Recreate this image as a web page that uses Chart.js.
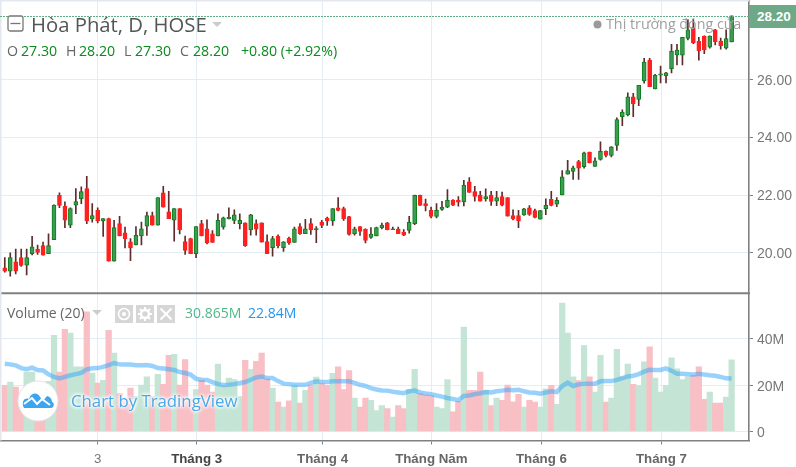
<!DOCTYPE html>
<html>
<head>
<meta charset="utf-8">
<title>Hòa Phát, D, HOSE</title>
<script src="https://cdn.jsdelivr.net/npm/chart.js@4"></script>
<style>
  html, body { margin: 0; padding: 0; background: #fff; overflow: hidden; }
  #wrap { position: relative; width: 796px; height: 467px; }
  #wrap div, #wrap svg { position: absolute; white-space: nowrap; }
  .ui { font-family: "Open Sans", sans-serif; line-height: 1; }
  .lbl { color: #666; font-size: 14.2px; top: 44px; }
  .val { color: #0b8a1e; font-size: 14.2px; top: 44px; }
  .btn { background: #d6d6d6; width: 18px; height: 18px; top: 305px; }
</style>
</head>
<body>
<div id="wrap">
  <canvas id="chart" width="796" height="467"></canvas>

  <svg style="left:7px;top:15px" width="17" height="17"><rect x="1" y="1" width="15" height="15" rx="2" fill="#fff" stroke="#777" stroke-width="1.3"/><line x1="3.5" y1="8.5" x2="13.5" y2="8.5" stroke="#777" stroke-width="1.3"/></svg>
  <div class="ui" style="left:31px;top:14px;font-size:20.3px;color:#555">Hòa Phát, D, HOSE</div>
  <svg style="left:212px;top:22px" width="11" height="6"><path d="M0 0H10L5 5Z" fill="#ccc"/></svg>

  <div class="ui lbl" style="left:7px">O</div><div class="ui val" style="left:21px">27.30</div>
  <div class="ui lbl" style="left:66px">H</div><div class="ui val" style="left:79px">28.20</div>
  <div class="ui lbl" style="left:124px">L</div><div class="ui val" style="left:135px">27.30</div>
  <div class="ui lbl" style="left:180px">C</div><div class="ui val" style="left:193px">28.20</div>
  <div class="ui val" style="left:241px">+0.80 (+2.92%)</div>

  <svg style="left:593px;top:20px" width="9" height="9"><circle cx="4.5" cy="4.5" r="4" fill="#9a9a9a"/></svg>
  <div class="ui" style="left:606px;top:17px;font-size:14.3px;color:#9f9f9f">Thị trường đóng cửa</div>

  <div style="left:749px;top:5px;width:47px;height:23px;background:#6ea987;color:#fff;font:bold 13.5px 'Liberation Sans',sans-serif;line-height:23px;text-indent:8px">28.20</div>

  <div class="ui" style="left:7px;top:306px;font-size:14px;color:#666">Volume (20)</div>
  <svg style="left:92px;top:310px" width="11" height="6"><path d="M0 0H10L5 5Z" fill="#ccc"/></svg>
  <div class="btn" style="left:115px"><svg style="left:0;top:0" width="18" height="18"><circle cx="9" cy="9" r="5.5" fill="none" stroke="#fff" stroke-width="1.6"/><circle cx="9" cy="9" r="2" fill="#fff"/></svg></div>
  <div class="btn" style="left:136px"><svg style="left:0;top:0" width="18" height="18"><circle cx="9" cy="9" r="4" fill="none" stroke="#fff" stroke-width="2.5"/><path d="M9 2V5M9 13V16M2 9H5M13 9H16M4 4L6 6M12 12L14 14M14 4L12 6M6 12L4 14" stroke="#fff" stroke-width="2"/></svg></div>
  <div class="btn" style="left:157px"><svg style="left:0;top:0" width="18" height="18"><path d="M3.5 3.5L14.5 14.5M14.5 3.5L3.5 14.5" stroke="#fff" stroke-width="2"/></svg></div>
  <div class="ui" style="left:185px;top:306px;font-size:14px;color:#4fb88a">30.865M</div>
  <div class="ui" style="left:248px;top:306px;font-size:14px;color:#2196f3">22.84M</div>

  <svg style="left:16px;top:379px" width="44" height="44"><circle cx="22" cy="22" r="20" fill="#fff" stroke="#e4e4e4"/><path d="M8 29C5 24 8 18 13 20C15 13 22 13 24 18L27 22L31 17C35 18 36 21 36 23C39 24 38 29 35 29Z" fill="#3ba5ef"/><path d="M8 25L16 19L21 25L26 20L34 26" fill="none" stroke="#fff" stroke-width="2"/></svg>
  <div class="ui" style="left:71px;top:393px;font-size:16.8px;color:#4aa8ea;text-shadow:0 0 3px #fff,0 0 3px #fff,0 0 4px #fff,0 0 4px #fff">Chart by TradingView</div>
</div>

<script>
// price data, one entry per trading day
const opens = [19.48,19.36,19.69,19.83,19.57,19.97,20.13,20.25,19.97,20.45,21.99,21.61,20.96,21.65,21.87,22.22,21.17,21.47,21.10,21.18,
  19.71,21.01,20.69,20.38,20.27,20.58,20.92,21.29,20.96,22.08,21.42,21.13,21.53,20.39,20.49,19.97,21.01,20.83,20.66,20.58,
  20.89,21.17,21.12,21.01,21.04,20.79,21.01,21.04,20.39,20.18,20.57,20.18,20.50,20.36,20.91,20.66,21.01,20.80,21.06,21.19,
  21.10,21.56,21.53,21.25,20.66,20.91,20.82,20.53,20.58,20.87,21.04,20.80,20.82,20.71,20.77,21.01,21.99,21.70,21.47,21.26,
  21.50,21.58,21.82,21.82,21.76,22.46,22.12,22.00,21.87,22.00,21.79,21.95,21.91,21.29,21.29,21.31,21.56,21.46,21.16,21.53,
  21.85,21.68,22.00,22.72,22.82,23.16,22.98,23.49,22.99,23.23,23.51,23.37,23.72,24.71,24.77,25.40,25.31,25.95,26.67,25.67,
  26.15,26.12,26.37,26.85,26.84,27.42,27.80,27.32,27.50,27.12,27.72,27.33,27.08,27.30];
const highs = [19.83,20.00,20.13,20.13,20.13,20.57,20.27,20.37,20.66,21.66,22.08,21.76,21.56,22.22,22.28,22.65,21.70,21.56,21.18,21.20,
  21.12,21.26,20.89,20.49,20.91,21.06,21.41,21.41,21.91,22.30,22.13,21.53,21.53,20.58,20.51,20.91,21.12,21.14,20.77,21.35,
  21.24,21.56,21.49,21.35,21.04,21.33,21.14,21.04,20.62,20.57,20.62,20.39,20.54,20.89,21.01,21.16,21.18,20.91,21.12,21.24,
  21.53,21.91,21.58,21.26,20.89,20.91,20.83,20.87,20.89,21.03,21.05,20.89,20.89,20.80,21.26,22.00,22.00,21.86,21.58,21.70,
  21.78,22.19,21.84,21.95,22.51,22.60,22.30,22.13,22.21,22.13,22.13,22.10,21.91,21.49,21.47,21.54,21.63,21.51,21.47,21.87,
  22.13,21.91,22.85,23.20,23.00,23.20,23.49,23.49,23.29,23.84,23.53,23.68,24.67,24.95,25.54,25.52,25.80,26.73,26.73,26.18,
  26.46,26.25,27.22,27.22,27.46,28.07,28.07,27.46,27.51,27.51,27.74,27.43,27.72,28.20];
const lows = [19.33,19.19,19.27,19.53,19.23,19.93,19.94,19.92,19.97,20.45,21.56,20.87,20.87,21.35,21.70,21.01,21.06,21.03,20.57,19.71,
  19.71,20.58,20.17,19.73,20.27,20.27,20.60,20.96,20.96,21.58,21.18,20.40,20.65,19.94,19.97,19.83,20.58,20.31,20.36,20.58,
  20.82,21.17,21.01,20.83,20.22,20.61,20.61,20.37,19.97,19.88,20.17,20.05,20.29,20.36,20.64,20.66,20.64,20.35,20.87,20.95,
  20.95,21.45,21.12,20.61,20.61,20.60,20.34,20.50,20.58,20.83,20.79,20.80,20.66,20.59,20.68,20.97,21.64,21.45,21.21,21.21,
  21.47,21.56,21.63,21.61,21.62,22.09,21.79,21.79,21.79,21.64,21.63,21.62,21.27,21.14,20.87,21.29,21.29,21.21,21.16,21.32,
  21.62,21.60,22.00,22.72,22.54,22.54,22.93,23.11,22.99,23.21,23.32,23.32,23.54,24.40,24.74,24.71,25.09,25.87,25.75,25.67,
  25.88,25.88,26.23,26.50,26.50,27.37,27.24,26.67,26.89,27.08,27.20,27.05,27.05,27.30];
const closes = [19.36,19.83,19.36,19.56,19.83,20.21,20.01,19.92,20.25,21.65,21.64,21.13,21.53,21.77,22.12,21.10,21.29,21.10,21.18,19.71,
  20.87,20.58,20.49,20.17,20.60,20.83,21.29,20.96,21.91,21.58,21.18,21.53,20.80,20.08,19.97,20.91,20.58,20.34,20.36,21.12,
  21.21,21.23,21.31,21.12,20.25,21.31,20.82,20.37,19.97,20.49,20.25,20.38,20.34,20.83,20.66,20.83,20.79,20.84,20.95,21.10,
  21.53,21.47,21.17,20.64,20.83,20.74,20.43,20.65,20.87,20.96,20.80,20.83,20.66,20.61,21.05,21.99,21.64,21.62,21.26,21.47,
  21.58,21.82,21.65,21.75,22.34,22.09,21.95,21.79,21.95,21.78,21.91,21.65,21.27,21.17,21.10,21.52,21.33,21.22,21.46,21.64,
  21.64,21.82,22.63,22.85,22.94,22.93,23.46,23.11,23.18,23.51,23.37,23.67,24.61,24.87,25.40,25.15,25.80,26.60,25.75,26.15,
  26.20,26.23,26.98,27.02,27.46,27.72,27.27,26.99,27.02,27.50,27.31,27.17,27.42,28.20];

// volume in millions and its 20 day average
const volumes = [19.9,21.3,19.1,15,25.6,25.6,18,14,21.6,41.4,25.6,44,42.4,27.8,27.8,51.5,25.2,20.9,22,43.6,
  33.8,16.3,14,18.7,15,20,23.5,15,24.6,20.3,32.8,33.2,20,31,14,18,22,20,17,29,
  19.9,23,22.4,15,30.6,26.8,30.2,33.8,22.7,18.7,12.7,10.5,13.2,20,12.2,17.7,20,23.4,20.6,19.9,
  25,27.8,18.1,26.2,14.4,10.5,14.4,13.4,9,11.2,9.9,6.2,11.2,9.9,18,26.8,16.3,15.8,15.5,10.5,
  9.9,22.4,8.5,13,45,17.7,17.7,25.6,17.7,11.2,14.4,13.4,20,12.8,16,10.5,13.4,12.7,10.5,18.4,
  19.9,11.7,55.3,42.4,23.5,21.9,37,23.5,17,32.8,12.7,14.4,35.4,23.5,29,20.3,19.9,30,36.5,23,
  17,19.9,31.7,27,22.4,23.5,24.2,27.9,13.8,17,12.2,12.2,14.8,30.865];
const volumeAvg = [29.2,28.9,28.5,27.3,26.8,27.5,26.5,26.3,24.6,23.5,22.9,23.5,24.2,24.7,25.2,26.8,27.2,27.3,27.8,28.6,
  29.5,28.9,28.8,28.8,28.5,28.5,28.6,28.2,27.3,27.1,26.8,26.5,25.6,25.2,24.5,22.7,22.3,22.2,21.3,20.4,
  20.0,20.1,20.4,20.9,21.3,22.3,23.3,23.7,23.0,23.0,21.7,20.6,20.4,20.1,20.1,20.1,20.9,21.6,21.3,21.3,
  21.6,21.6,21.6,21.6,20.9,20.1,19.6,18.7,18.1,17.7,17.6,17.1,16.8,16.5,17.3,17.6,16.8,16.4,16.1,15.5,
  15.0,14.4,14.0,13.5,15.3,15.5,16.1,16.5,17.0,16.8,17.3,17.6,18.0,17.8,18.0,17.3,16.8,16.7,16.3,16.8,
  17.3,17.0,19.6,21.0,19.6,20.3,20.6,20.6,20.6,21.6,21.7,21.7,22.2,23.0,23.7,24.0,24.7,25.8,26.6,26.5,
  26.5,27.2,26.2,24.9,24.9,24.7,24.5,24.9,24.5,24.2,24.0,23.5,22.9,22.84];

const lastClose = 28.20;
const priceTicks = [20, 22, 24, 26];
const volumeTicks = [0, 20, 40];
// the month lines sit a little right of the bar centres in the picture
const dateTickIndex = [17, 35.1, 58.15, 78.05, 98.2, 120.15];
const dateTickLabels = ['3', 'Tháng 3', 'Tháng 4', 'Tháng Năm', 'Tháng 6', 'Tháng 7'];

const upBody = '#3f9a55', upBorder = '#0a7f1a';
const downBody = '#ff2020', downBorder = '#ff1f1f';
const upVolume = '#c4e5d5', downVolume = '#f8bfc5';
const wickColor = '#5e2c2c';
const gridColor = '#e2edf6', axisColor = '#808080', tickText = '#777';

// the divider between panes, the frame and the dotted last price line
const paneLines = {
  id: 'paneLines',
  afterDraw(chart) {
    const c = chart.ctx, a = chart.chartArea, s = chart.scales;
    c.save();
    c.strokeStyle = axisColor;
    c.lineWidth = 2;
    c.beginPath();
    c.moveTo(0, s.y.bottom);
    c.lineTo(a.right + 1, s.y.bottom);
    c.stroke();
    c.strokeStyle = '#e3e8ee';
    c.beginPath();
    c.moveTo(0, 0.5);
    c.lineTo(a.right, 0.5);
    c.moveTo(0.5, 0);
    c.lineTo(0.5, a.bottom);
    c.stroke();
    c.strokeStyle = '#5fae84';
    c.lineWidth = 1;
    c.setLineDash([2, 1]);
    const y = Math.round(s.y.getPixelForValue(lastClose)) + 0.5;
    c.beginPath();
    c.moveTo(0, y);
    c.lineTo(a.right, y);
    c.stroke();
    c.restore();
  }
};

function fitRight(scale) {
  scale.width = 47;
  scale.paddingTop = 0;
  scale.paddingBottom = 0;
}

const days = opens.map((o, i) => i);

new Chart(document.getElementById('chart'), {
  type: 'bar',
  data: {
    datasets: [
      {
        type: 'line', yAxisID: 'y2', order: 1,
        data: days.map(i => ({ x: i, y: volumeAvg[i] })),
        borderColor: 'rgba(50,165,250,0.5)', borderWidth: 4.5, pointRadius: 0, tension: 0
      },
      {
        yAxisID: 'y', order: 2, grouped: false, barThickness: 4,
        data: days.map(i => ({ x: i, y: [opens[i], closes[i]] })),
        backgroundColor: days.map(i => closes[i] >= opens[i] ? upBody : downBody),
        borderColor: days.map(i => closes[i] >= opens[i] ? upBorder : downBorder),
        borderWidth: 1, borderSkipped: false
      },
      {
        yAxisID: 'y', order: 3, grouped: false, barThickness: 1,
        data: days.map(i => ({ x: i, y: [lows[i], highs[i]] })),
        backgroundColor: wickColor
      },
      {
        yAxisID: 'y2', order: 4, grouped: false, barThickness: 5.6,
        data: days.map(i => ({ x: i, y: volumes[i] })),
        backgroundColor: days.map(i => closes[i] >= opens[i] ? upVolume : downVolume)
      }
    ]
  },
  options: {
    responsive: false,
    animation: false,
    devicePixelRatio: 1,
    layout: { padding: 0 },
    plugins: { legend: { display: false }, tooltip: { enabled: false } },
    scales: {
      x: {
        type: 'linear', min: -0.878, max: 136.18, offset: false,
        afterFit(scale) { scale.height = 26.5; scale.paddingLeft = 0; scale.paddingRight = 0; },
        afterBuildTicks(scale) { scale.ticks = dateTickIndex.map(v => ({ value: v })); },
        grid: { offset: false, color: gridColor, tickColor: axisColor, tickLength: 4 },
        border: { color: axisColor, width: 1.6 },
        ticks: {
          autoSkip: false, maxRotation: 0, padding: 7,
          callback: v => dateTickLabels[dateTickIndex.indexOf(v)],
          color: ctx => ctx.index === 1 ? '#444' : (ctx.index === 0 ? '#777' : '#666'),
          font: ctx => ({ family: '"Liberation Sans"', size: 13.3, weight: ctx.index === 0 ? 'normal' : 'bold' })
        }
      },
      // labels get an empty first line with a tiny line height, that nudges them down a bit
      y: {
        position: 'right', stack: 'panes', stackWeight: 293,
        min: 18.596, max: 28.752,
        afterFit: fitRight,
        afterBuildTicks(scale) { scale.ticks = priceTicks.map(v => ({ value: v })); },
        grid: { color: gridColor, tickColor: axisColor, tickLength: 4 },
        border: { color: axisColor, width: 1.6 },
        ticks: {
          padding: 4, color: tickText,
          font: { family: '"Liberation Sans"', size: 14, lineHeight: '2.6px' },
          callback: v => ['', v.toFixed(2)]
        }
      },
      y2: {
        position: 'right', stack: 'panes', stackWeight: 147,
        min: -3.88, max: 59.5,
        afterFit: fitRight,
        afterBuildTicks(scale) { scale.ticks = volumeTicks.map(v => ({ value: v })); },
        grid: { color: gridColor, tickColor: axisColor, tickLength: 4 },
        border: { color: axisColor, width: 1.6 },
        ticks: {
          padding: 4, color: tickText,
          font: { family: '"Liberation Sans"', size: 14, lineHeight: '3.4px' },
          callback: v => ['', v === 0 ? '0' : v + 'M']
        }
      }
    }
  },
  plugins: [paneLines]
});
</script>
</body>
</html>
